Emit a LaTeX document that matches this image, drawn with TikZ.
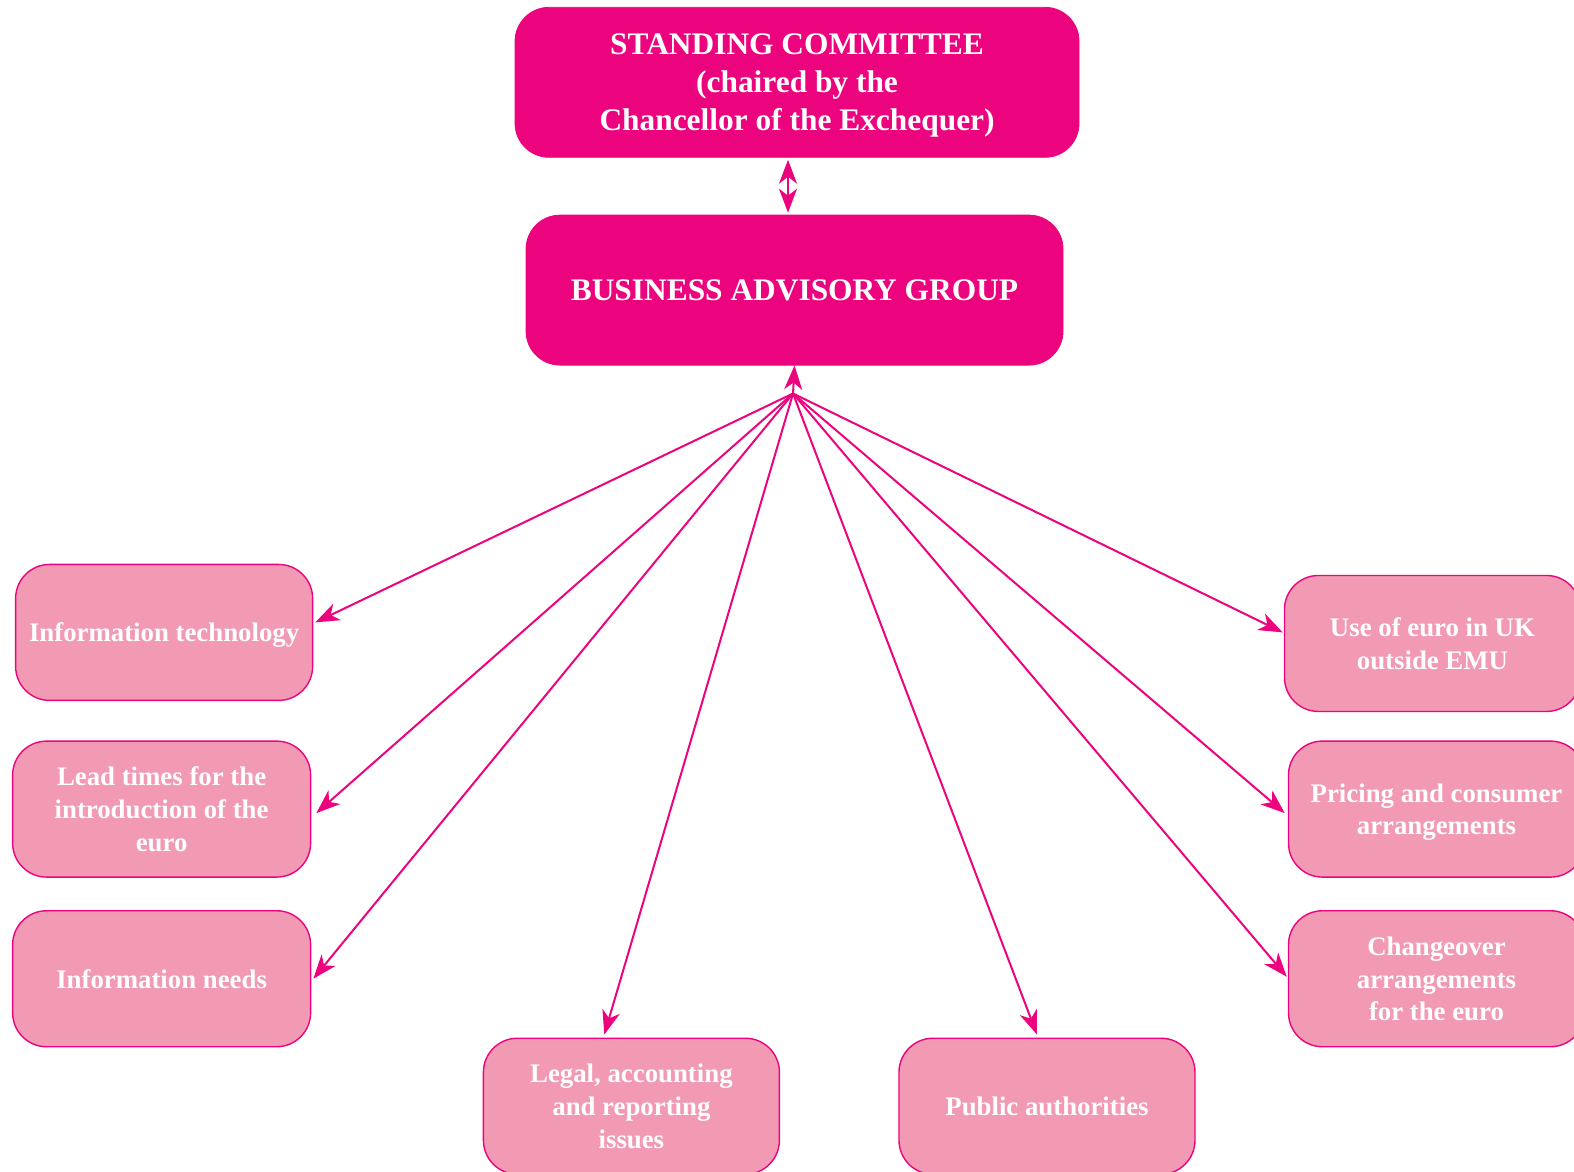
\documentclass[tikz,border=0pt]{standalone}
\usepackage{fontspec}
\setmainfont{Liberation Serif}
\usetikzlibrary{arrows.meta,calc}
\definecolor{magentadark}{RGB}{236,4,126}
\definecolor{pinklight}{RGB}{242,153,180}
\begin{document}
\begin{tikzpicture}[x=0.50191pt,y=-0.50191pt,
  bigbox/.style={fill=magentadark,draw=magentadark,rounded corners=17pt,text=white,
    font=\bfseries\fontsize{15.7}{19.1}\selectfont,align=center,inner sep=0pt,text depth=0pt},
  smallbox/.style={fill=pinklight,draw=magentadark,line width=0.7pt,rounded corners=17pt,text=white,
    font=\bfseries\fontsize{13.4}{16.3}\selectfont,align=center,inner sep=0pt,text depth=0pt},
  tip/.style={Stealth[length=12pt,width=9pt,inset=3.5pt]},
  conn/.style={draw=magentadark,line width=1pt,-{Stealth[length=12pt,width=9pt,inset=3.5pt]}}]
\useasboundingbox (0,0) rectangle (1568,1167);
\node[bigbox,minimum width=282pt,minimum height=75pt] (sc) at (794,82) {STANDING COMMITTEE\\(chaired by the\\Chancellor of the Exchequer)};
\node[bigbox,minimum width=268.5pt,minimum height=75pt] (bag) at (791.5,289) {BUSINESS ADVISORY GROUP};
\node[smallbox,minimum width=148.5pt,minimum height=68pt] (it) at (163.5,630) {Information technology};
\node[smallbox,minimum width=149pt,minimum height=68pt] (lead) at (161,806) {Lead times for the\\introduction of the\\euro};
\node[smallbox,minimum width=149pt,minimum height=68pt] (need) at (161,975) {Information needs};
\node[smallbox,minimum width=148pt,minimum height=68pt] (legal) at (629,1102) {Legal, accounting\\and reporting\\issues};
\node[smallbox,minimum width=148pt,minimum height=68pt] (pub) at (1043,1102) {Public authorities};
\node[smallbox,minimum width=148pt,minimum height=68pt] (use) at (1427,641) {Use of euro in UK\\outside EMU};
\node[smallbox,minimum width=148pt,minimum height=68pt] (price) at (1431,806) {Pricing and consumer\\arrangements};
\node[smallbox,minimum width=148pt,minimum height=68pt] (change) at (1431,975) {Changeover\\arrangements\\for the euro};
\coordinate (hub) at (790,392);
\draw[draw=magentadark,line width=1pt,{Stealth[length=12pt,width=9pt,inset=3.5pt]}-{Stealth[length=12pt,width=9pt,inset=3.5pt]}] ($(sc.south)+(-9,2)$) -- ($(bag.north)+(-6.5,-2)$);
\draw[conn] (hub) -- (bag.south);
\draw[conn] (hub) -- ($(it.east)+(2,-10)$);
\draw[conn] (hub) -- ($(lead.east)+(5,4)$);
\draw[conn] (hub) -- ($(need.east)+(2,0)$);
\draw[conn] (hub) -- ($(legal.north)+(-27,-3)$);
\draw[conn] (hub) -- ($(pub.north)+(-10,-3)$);
\draw[conn] (hub) -- ($(use.west)+(-1,-11)$);
\draw[conn] (hub) -- ($(price.west)+(-3,4)$);
\draw[conn] (hub) -- ($(change.west)+(-1,-2)$);
\end{tikzpicture}
\end{document}
